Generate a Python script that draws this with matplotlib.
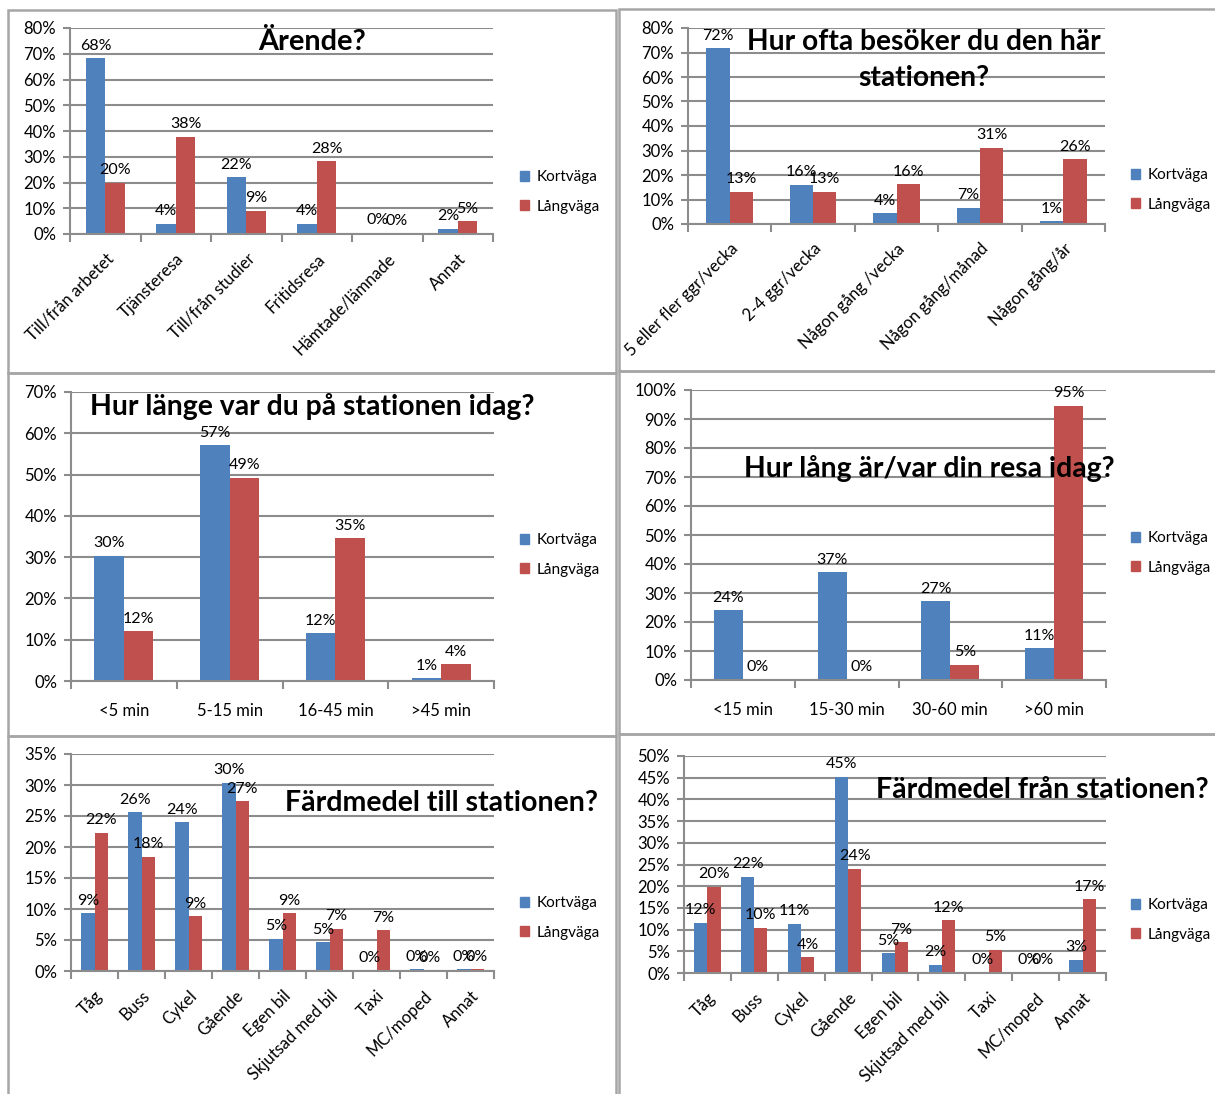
import matplotlib
matplotlib.use("Agg")
import matplotlib.pyplot as plt
from matplotlib.patches import Rectangle, Patch
import numpy as np
import math

# ---------------- data ----------------
series_names = ["Kortväga", "Långväga"]

p1_title = "Ärende?"
p1_cats = ["Till/från arbetet", "Tjänsteresa", "Till/från studier", "Fritidsresa", "Hämtade/lämnade", "Annat"]
p1_kort = [68.3, 4.0, 22.0, 4.0, 0.4, 2.0]
p1_lang = [20.0, 37.7, 9.0, 28.3, 0.0, 5.0]

p2_title = ["Hur ofta besöker du den här", "stationen?"]
p2_cats = ["5 eller fler ggr/vecka", "2-4 ggr/vecka", "Någon gång /vecka", "Någon gång/månad", "Någon gång/år"]
p2_kort = [71.8, 15.9, 4.4, 6.6, 1.2]
p2_lang = [13.2, 13.2, 16.3, 31.2, 26.4]

p3_title = "Hur länge var du på stationen idag?"
p3_cats = ["<5 min", "5-15 min", "16-45 min", ">45 min"]
p3_kort = [30.3, 57.1, 11.6, 0.7]
p3_lang = [12.0, 49.2, 34.6, 4.0]

p4_title = "Hur lång är/var din resa idag?"
p4_cats = ["<15 min", "15-30 min", "30-60 min", ">60 min"]
p4_kort = [24.0, 37.2, 27.2, 10.9]
p4_lang = [0.0, 0.0, 5.2, 94.6]

p5_title = "Färdmedel till stationen?"
p5_cats = ["Tåg", "Buss", "Cykel", "Gående", "Egen bil", "Skjutsad med bil", "Taxi", "MC/moped", "Annat"]
p5_kort = [9.3, 25.6, 24.0, 30.4, 5.2, 4.6, 0.0, 0.3, 0.3]
p5_lang = [22.3, 18.4, 8.8, 27.4, 9.3, 6.8, 6.6, 0.0, 0.3]

p6_title = "Färdmedel från stationen?"
p6_cats = ["Tåg", "Buss", "Cykel", "Gående", "Egen bil", "Skjutsad med bil", "Taxi", "MC/moped", "Annat"]
p6_kort = [11.6, 22.2, 11.4, 45.2, 4.5, 1.9, 0.0, 0.0, 3.0]
p6_lang = [19.9, 10.4, 3.6, 24.0, 7.1, 12.1, 5.3, 0.0, 17.0]

# ---------------- style ----------------
W, H = 1215, 1094
plt.rcParams["font.family"] = ["Lato", "DejaVu Sans"]
BLUE = "#4F81BD"
RED = "#C0504D"
GRID = "#8C8C8C"
BORDER = "#A6A6A6"
FS = 12       # tick labels
FS_DL = 11.5  # data labels
FS_LEG = 11

fig = plt.figure(figsize=(W / 100, H / 100), dpi=100)
fig.patch.set_facecolor("white")


def border(x0, y0, x1, y1):
    fig.patches.append(Rectangle((x0 / W, 1 - y1 / H), (x1 - x0) / W, (y1 - y0) / H,
                                 transform=fig.transFigure, fill=False,
                                 edgecolor=BORDER, linewidth=1.8, zorder=0))


border(8, 10, 616, 373)
border(8, 373, 616, 736)
border(8, 736, 616, 1110)
border(619, 9, 1230, 371)
border(619, 371, 1230, 734)
border(619, 734, 1230, 1110)


def ax_at(x0, x1, ytop, y0):
    return fig.add_axes([x0 / W, 1 - y0 / H, (x1 - x0) / W, (y0 - ytop) / H])


def pct(v):
    return f"{int(math.floor(v + 0.5))}%"


def draw(box, cats, kort, lang, ymax, step, rotate, legend_xy):
    ax = ax_at(*box)
    n = len(cats)
    x = np.arange(n)
    bw = 0.28
    ax.bar(x - bw / 2, kort, bw, color=BLUE, linewidth=0, zorder=2)
    ax.bar(x + bw / 2, lang, bw, color=RED, linewidth=0, zorder=2)
    for xi, v in zip(x - bw / 2, kort):
        ax.annotate(pct(v), (xi, v), xytext=(0, 4), textcoords="offset points",
                    ha="center", va="bottom", fontsize=FS_DL, zorder=4)
    for xi, v in zip(x + bw / 2, lang):
        ax.annotate(pct(v), (xi, v), xytext=(0, 4), textcoords="offset points",
                    ha="center", va="bottom", fontsize=FS_DL, zorder=4)
    ax.set_xlim(-0.5, n - 0.5)
    ax.set_ylim(0, ymax)
    yt = np.arange(0, ymax + 0.001, step)
    ax.set_yticks(yt)
    ax.set_yticklabels([f"{int(t)}%" for t in yt], fontsize=FS)
    ax.yaxis.grid(True, color=GRID, linewidth=1.5)
    ax.set_axisbelow(True)
    ax.set_xticks(np.arange(-0.5, n, 1))
    ax.set_xticklabels([])
    ax.set_xticks(x, minor=True)
    if rotate:
        ax.set_xticklabels(cats, minor=True, rotation=45, ha="right", va="top",
                           rotation_mode="anchor", fontsize=FS)
        ax.tick_params(axis="x", which="minor", length=0, pad=12)
    else:
        ax.set_xticklabels(cats, minor=True, fontsize=FS)
        ax.tick_params(axis="x", which="minor", length=0, pad=16)
    ax.tick_params(axis="x", which="major", direction="out", length=6, color=GRID, width=1.5)
    ax.tick_params(axis="y", direction="out", length=5, color=GRID, width=1.5, pad=5)
    for s in ("top", "right"):
        ax.spines[s].set_visible(False)
    for s in ("left", "bottom"):
        ax.spines[s].set_color(GRID)
        ax.spines[s].set_linewidth(1.5)
    ax.set_facecolor("none")
    handles = [Patch(color=BLUE, label=series_names[0]), Patch(color=RED, label=series_names[1])]
    fig.legend(handles=handles, loc="center left",
               bbox_to_anchor=(legend_xy[0] / W, 1 - legend_xy[1] / H),
               frameon=False, fontsize=FS_LEG, handlelength=0.6, handleheight=0.6,
               handletextpad=0.5, labelspacing=1.0, borderpad=0, borderaxespad=0)
    return ax


draw((70, 493, 28, 234), p1_cats, p1_kort, p1_lang, 80, 10, True, (520, 192))
draw((688, 1105, 28, 224), p2_cats, p2_kort, p2_lang, 80, 10, True, (1131, 190))
draw((71, 494, 392, 681), p3_cats, p3_kort, p3_lang, 70, 10, False, (520, 555))
draw((691, 1106, 390, 680), p4_cats, p4_kort, p4_lang, 100, 10, False, (1131, 553))
draw((71, 494, 754, 971), p5_cats, p5_kort, p5_lang, 35, 5, True, (520, 918))
draw((684, 1106, 756, 973), p6_cats, p6_kort, p6_lang, 50, 5, True, (1131, 920))

renderer = fig.canvas.get_renderer()


def title(txt, cx, cy, width, fs=None):
    t = fig.text(cx / W, 1 - cy / H, txt, ha="center", va="center",
                 fontweight="bold", fontsize=fs or 20, zorder=10)
    if fs is None:
        w = t.get_window_extent(renderer).width
        t.set_fontsize(20 * width / w)
    return t


title(p1_title, 312, 42, 108)
t2 = title(p2_title[0], 924, 42, 353)
title(p2_title[1], 924, 78, None, fs=t2.get_fontsize())
title(p3_title, 312, 406, 445)
title(p4_title, 929, 468, 370)
title(p5_title, 441, 803, 314)
title(p6_title, 1042, 790, 332)

fig.savefig("out.png", dpi=100)
